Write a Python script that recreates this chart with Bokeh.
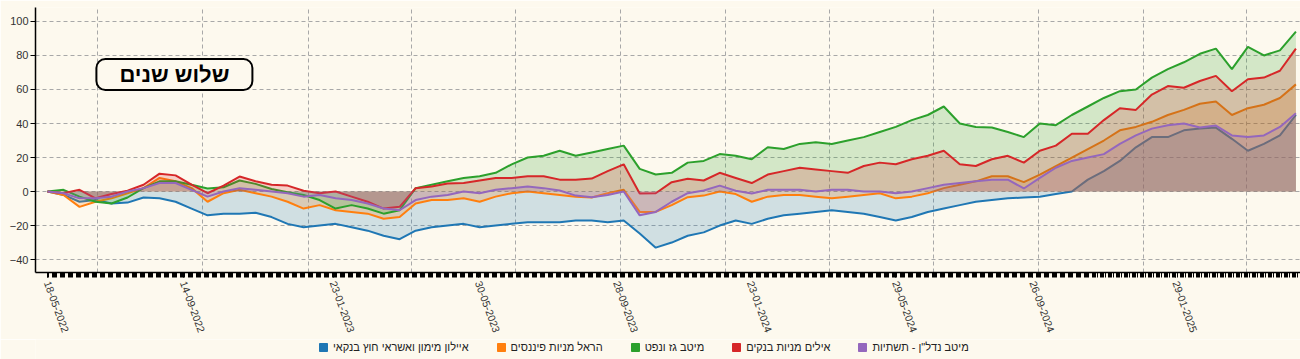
import pandas as pd
from bokeh.plotting import figure
from bokeh.layouts import column
from bokeh.models import (Range1d, FixedTicker, DatetimeTickFormatter, Legend,
                          LegendItem, Label, ColumnDataSource)
from bokeh.embed import file_html
from bokeh.resources import INLINE

# ---------------- data ----------------
dates = pd.date_range("2022-05-18", periods=79, freq="14D")

names = ["איילון מימון ואשראי חוץ בנקאי", "הראל מניות פיננסים", "מיטב גז ונפט",
         "אילים מניות בנקים", "מיטב נדל\"ן - תשתיות"]
colors = ["#1f77b4", "#ff7f0e", "#2ca02c", "#d62728", "#9467bd"]

ayalon = [0, -2, -6, -5, -7, -6.5, -3.5, -4, -6, -10, -14, -13, -13, -12.5, -15, -19,
          -21, -20, -19, -21, -23, -26, -28, -23, -21, -20, -19, -21, -20, -19, -18, -18,
          -18, -17, -17, -18, -17, -24.7, -33, -30, -26, -24, -20, -17, -19, -16, -14, -13,
          -12, -11, -12, -13, -15, -17, -15, -12, -10, -8, -6, -5, -4, -3.5, -3, -1.5,
          0, 7, 12, 18, 26, 32, 32, 36, 37, 37.6, 31, 24, 28, 33, 45]
harel = [0, -2, -9, -6, -4, -1, 2, 8, 6, 2, -6, -1, 1, -1, -3, -6,
         -10, -8, -11, -12, -13, -16, -15, -7, -5, -5, -4, -6, -3, -1, 0, -1,
         -2, -3, -3.5, -1, 1, -12, -12, -8, -3.3, -2.4, 0, -1.5, -6, -3, -2, -2,
         -3, -4, -3, -2, -1, -4, -3, -1, 2, 4, 6, 9, 9, 5.5, 10, 15,
         20, 25, 30, 36, 38, 41, 45, 48, 51.6, 53, 45, 49, 51, 55, 63]
meitav_gas = [0, 1, -3, -6, -7, -3.5, 2, 6, 6, 4, 1.8, 2.5, 6.5, 4.5, 1.5, -0.4,
              -2, -5, -10, -8, -10, -13, -11, 2, 4, 6, 8, 9, 11, 16, 20, 21,
              24, 21, 23, 25, 27, 13.3, 10, 11, 17, 18, 22, 21, 19, 26, 25, 28,
              29, 28, 30, 32, 35, 38, 42, 45, 50, 40, 38, 37.6, 35, 32, 40, 39,
              45, 50, 55, 59, 60, 67, 72, 76, 81, 84, 72, 85, 80, 83, 94]
ayalim_banks = [0, -1, 1, -4, -1.5, 0.5, 4, 10.5, 9.5, 4, -1, 3.5, 8.8, 6, 4, 3.5,
                0.5, -1, 0, -3, -6, -10, -9, 2, 3, 4.7, 5, 6.5, 8, 8, 9, 9,
                7, 7, 7.6, 12, 16, -1.2, -1, 5.5, 7.5, 6.5, 11, 8, 5, 10, 12, 14,
                13, 12, 11, 15, 17, 16, 19, 21, 24, 16, 15, 19, 21, 17, 24, 27,
                34, 34, 42, 49, 48, 57, 62, 61, 65, 68, 59, 66, 67, 71, 84]
meitav_realestate = [0, -1, -4, -4, -3, 0, 2, 5, 5, 1, -3, 0, 2, 1, 0, -1,
                     -3, -2, -4, -5, -7, -10, -11, -5, -3, -2, 0, -1, 1, 2, 3, 2,
                     0.6, -2.4, -3.3, -2, 0, -14, -12, -6, -1, 0.6, 3.5, 0.5, -1.2, 1, 1, 1,
                     0, 1, 1, 0, 0, -1, 0, 2, 4, 5, 6, 7, 7, 1.8, 8, 14,
                     18, 20, 22, 28, 33, 37, 39, 40, 37.6, 38.8, 33, 32, 33, 38, 46]
series = [ayalon, harel, meitav_gas, ayalim_banks, meitav_realestate]

tick_label_dates = ["2022-05-18", "2022-09-14", "2023-01-23", "2023-05-30", "2023-09-28",
                    "2024-01-23", "2024-05-29", "2024-09-26", "2025-01-29"]
grid_dates = ["2022-07-01", "2022-10-01", "2023-01-01", "2023-04-01", "2023-07-01",
              "2023-10-01", "2024-01-01", "2024-04-01", "2024-07-01", "2024-10-01",
              "2025-01-01", "2025-04-01"]
y_ticks = [-40, -20, 0, 20, 40, 60, 80, 100]
title_text = "שלוש שנים"

# ---------------- helpers ----------------
def to_ms(lst):
    idx = pd.to_datetime(lst)
    return [int((d - pd.Timestamp("1970-01-01")) / pd.Timedelta("1ms")) for d in idx]

trading_days = pd.bdate_range("2022-05-18", "2025-05-16", freq="C",
                              weekmask="Sun Mon Tue Wed Thu")

BG = "#fdf9ee"
FONT = "Liberation Sans"

p = figure(width=1300, height=339, x_axis_type="datetime",
           x_range=Range1d(pd.Timestamp("2022-05-07 12:00"), pd.Timestamp("2025-05-18")),
           y_range=Range1d(-47.6, 108.2),
           output_backend="svg", toolbar_location=None,
           background_fill_color=BG, border_fill_color=BG,
           min_border_left=35, min_border_right=0, min_border_top=7, min_border_bottom=67)
p.outline_line_color = None

# areas and lines, drawn series by series
for vals, c in zip(series, colors):
    src = ColumnDataSource(dict(x=dates, y=vals, z=[0] * len(vals)))
    p.varea(x="x", y1="z", y2="y", source=src, fill_color=c, fill_alpha=0.2)
    p.line(x="x", y="y", source=src, line_color=c, line_width=2)

# axes
xa = p.xaxis[0]
xa.ticker = FixedTicker(ticks=to_ms(tick_label_dates), minor_ticks=to_ms(trading_days))
fmt = "%d-%m-%Y"
xa.formatter = DatetimeTickFormatter(microseconds=fmt, milliseconds=fmt, seconds=fmt,
                                     minsec=fmt, minutes=fmt, hourmin=fmt, hours=fmt,
                                     days=fmt, months=fmt, years=fmt)
xa.major_label_orientation = -1.22
xa.major_tick_out = 5
xa.major_tick_in = 0
xa.minor_tick_out = 5
xa.minor_tick_in = 0
xa.major_tick_line_color = "black"
xa.minor_tick_line_color = "black"
xa.axis_line_width = 1.5
xa.major_label_text_font = FONT
xa.major_label_text_font_size = "10.5px"
xa.major_label_text_color = "#333333"
xa.major_label_standoff = 4

ya = p.yaxis[0]
ya.ticker = FixedTicker(ticks=y_ticks)
ya.major_tick_out = 5
ya.major_tick_in = 0
ya.minor_tick_line_color = None
ya.axis_line_width = 1.5
ya.major_label_text_font = FONT
ya.major_label_text_font_size = "11px"
ya.major_label_text_color = "#333333"
ya.major_label_standoff = 2

p.xgrid.ticker = FixedTicker(ticks=to_ms(grid_dates))
for g in (p.xgrid[0], p.ygrid[0]):
    g.grid_line_color = "#a8a8a8"
    g.grid_line_dash = "4 3"
    g.grid_line_width = 1

# title box
p.add_layout(Label(x=pd.Timestamp("2022-09-06"), y=68.8, text=title_text,
                   text_align="center", text_baseline="middle",
                   text_font=FONT, text_font_style="bold", text_font_size="22px",
                   text_color="black", background_fill_color=BG,
                   border_line_color="black", border_line_width=2,
                   border_radius=9, padding=(23, 3)))

# legend strip below the chart (solid squares + labels)
lg = figure(width=1300, height=20, x_range=Range1d(0, 1), y_range=Range1d(0, 1),
            output_backend="svg", toolbar_location=None,
            x_axis_location=None, y_axis_location=None,
            background_fill_color=BG, border_fill_color=BG,
            min_border_left=0, min_border_right=0, min_border_top=0, min_border_bottom=0)
lg.outline_line_color = None
lg.grid.visible = False
items = []
for name, c in zip(names, colors):
    # one off-screen quad per series: only its legend swatch is seen
    r = lg.quad(left=[5], right=[6], top=[6], bottom=[5], fill_color=c, line_color=c)
    items.append(LegendItem(label=name, renderers=[r]))
legend = Legend(items=items, orientation="horizontal", location=(283, 6),
                glyph_width=10, glyph_height=10, label_standoff=5, spacing=27,
                label_text_font=FONT, label_text_font_size="11px",
                label_text_color="#222222", label_height=12,
                background_fill_color=BG, background_fill_alpha=1,
                border_line_color=None, padding=0, margin=0)
lg.add_layout(legend, "center")

open("out.html", "w").write(file_html(column(p, lg), INLINE))
